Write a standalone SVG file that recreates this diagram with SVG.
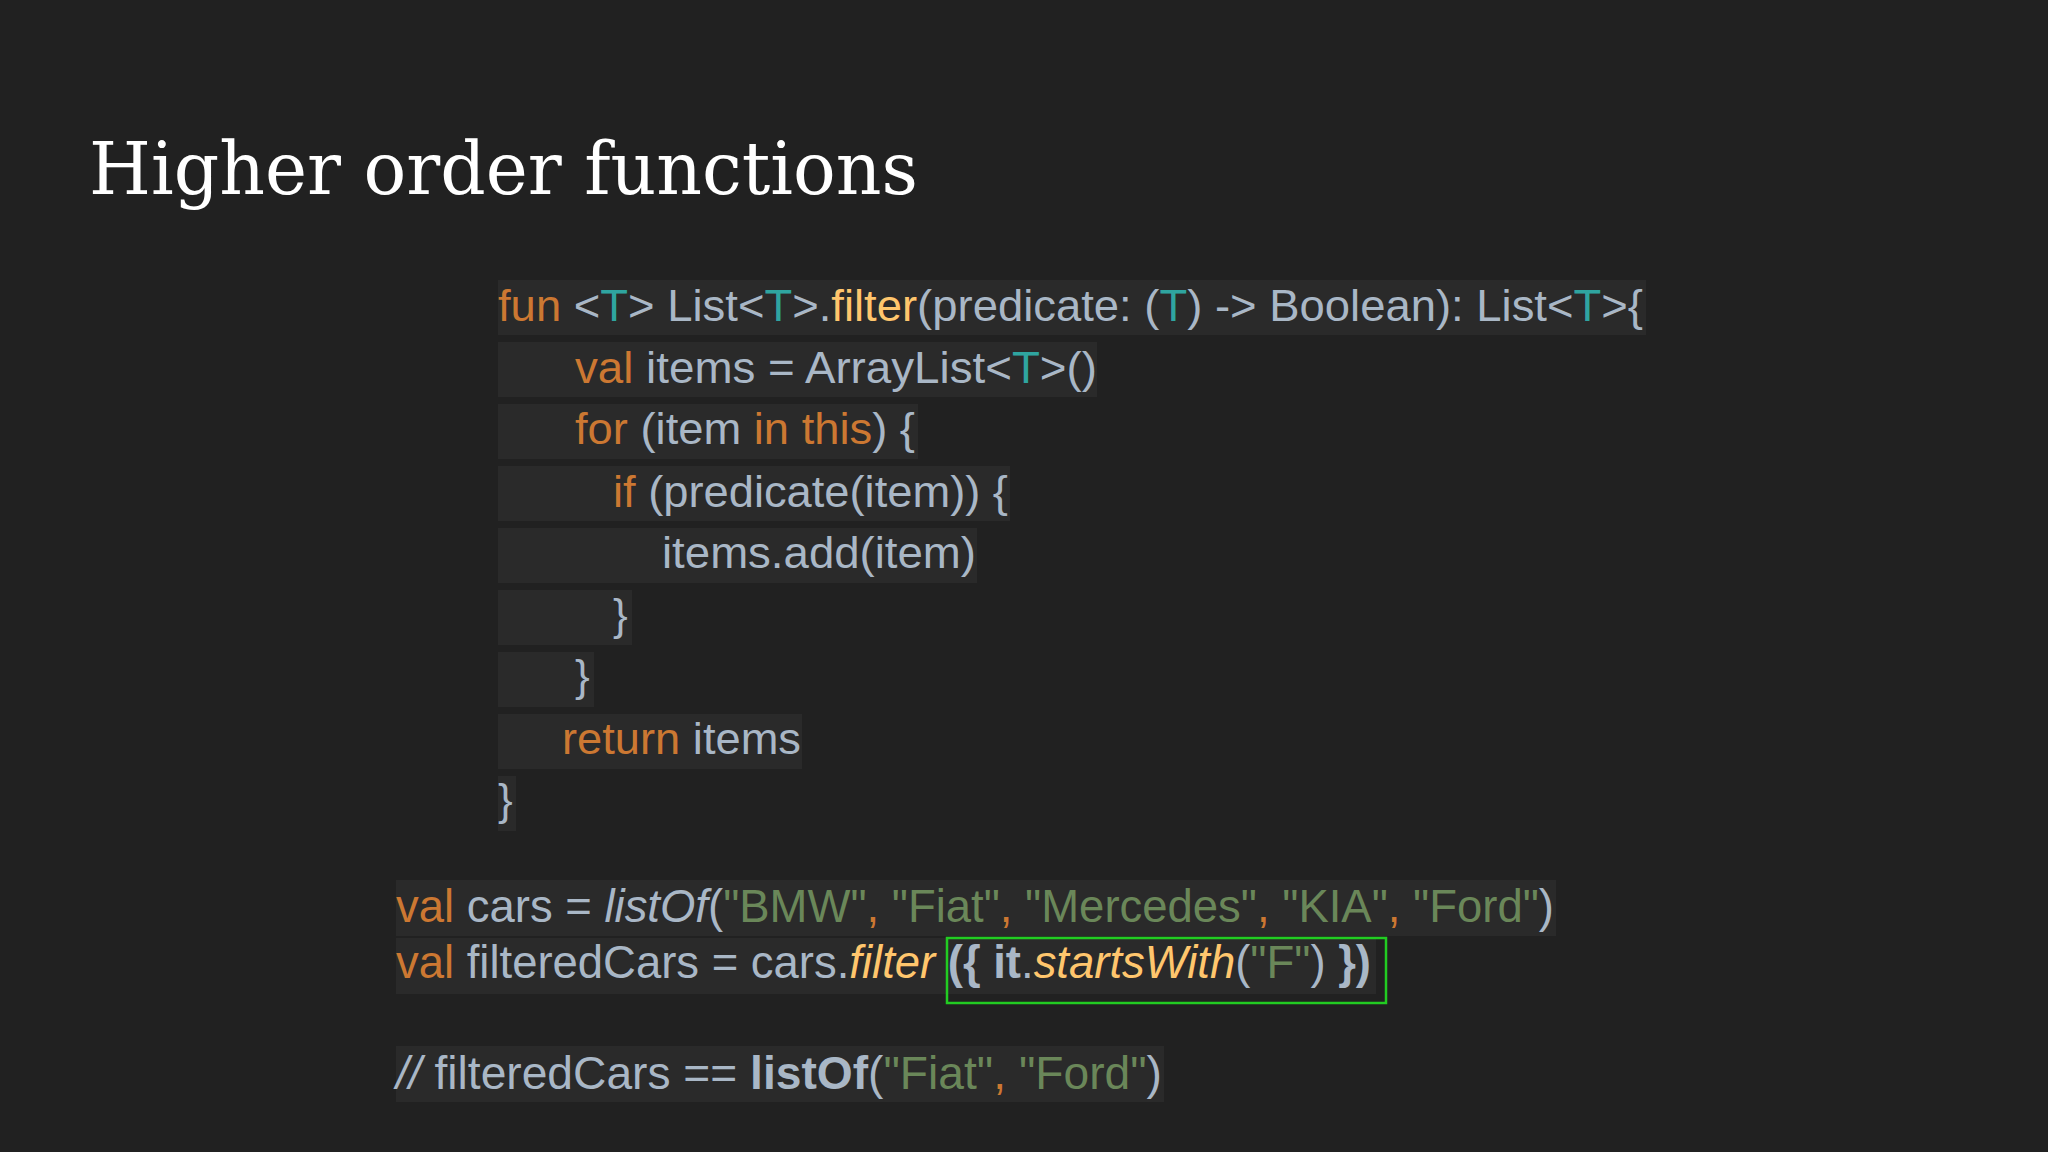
<svg xmlns="http://www.w3.org/2000/svg" width="2048" height="1152" viewBox="0 0 2048 1152">
<style>
.c{font-family:"Liberation Sans",Arial,sans-serif;font-size:44px;fill:#a9b7c6}
.b{font-size:46px}
.k{fill:#cc7832}.t{fill:#2fa5a0}.y{fill:#ffc66d}.s{fill:#6a8759}
.hl{fill:#2a2a2a}
</style>
<rect width="2048" height="1152" fill="#212121"/>
<g id="title"><text x="89" y="194" font-family="'DejaVu Serif',serif" font-size="72" fill="#ffffff" textLength="829" lengthAdjust="spacingAndGlyphs">Higher order functions</text></g>
<g id="bg">
<rect class="hl" x="498" y="280" width="1148" height="55"/>
<rect class="hl" x="498" y="342" width="599" height="55"/>
<rect class="hl" x="498" y="404" width="420" height="55"/>
<rect class="hl" x="498" y="466" width="512" height="55"/>
<rect class="hl" x="498" y="528" width="479" height="55"/>
<rect class="hl" x="498" y="590" width="134" height="55"/>
<rect class="hl" x="498" y="652" width="96" height="55"/>
<rect class="hl" x="498" y="714" width="304" height="55"/>
<rect class="hl" x="498" y="776" width="18" height="55"/>
<rect class="hl" x="396" y="880" width="1160" height="56"/>
<rect class="hl" x="396" y="938" width="980" height="56"/>
<rect class="hl" x="396" y="1046" width="768" height="56"/>
</g>
<g id="code">
<text class="c" x="498" y="321" textLength="1145" lengthAdjust="spacingAndGlyphs"><tspan class="k">fun</tspan> &lt;<tspan class="t">T</tspan>&gt; List&lt;<tspan class="t">T</tspan>&gt;.<tspan class="y">filter</tspan>(predicate: (<tspan class="t">T</tspan>) -&gt; Boolean): List&lt;<tspan class="t">T</tspan>&gt;{</text>
<text class="c" x="575" y="383" textLength="522" lengthAdjust="spacingAndGlyphs"><tspan class="k">val</tspan> items = ArrayList&lt;<tspan class="t">T</tspan>&gt;()</text>
<text class="c" x="575" y="444" textLength="340" lengthAdjust="spacingAndGlyphs"><tspan class="k">for</tspan> (item <tspan class="k">in</tspan> <tspan class="k">this</tspan>) {</text>
<text class="c" x="613" y="507" textLength="395" lengthAdjust="spacingAndGlyphs"><tspan class="k">if</tspan> (predicate(item)) {</text>
<text class="c" x="662" y="568" textLength="314" lengthAdjust="spacingAndGlyphs">items.add(item)</text>
<text class="c" x="613" y="630">}</text>
<text class="c" x="575" y="691">}</text>
<text class="c" x="562" y="754" textLength="239" lengthAdjust="spacingAndGlyphs"><tspan class="k">return</tspan> items</text>
<text class="c" x="498" y="815">}</text>
<text class="c b" x="396" y="922" textLength="1158" lengthAdjust="spacingAndGlyphs"><tspan class="k">val</tspan> cars = <tspan font-style="italic">listOf</tspan>(<tspan class="s">"BMW"</tspan><tspan class="k">,</tspan> <tspan class="s">"Fiat"</tspan><tspan class="k">,</tspan> <tspan class="s">"Mercedes"</tspan><tspan class="k">,</tspan> <tspan class="s">"KIA"</tspan><tspan class="k">,</tspan> <tspan class="s">"Ford"</tspan>)</text>
<text class="c b" x="396" y="978" textLength="975" lengthAdjust="spacingAndGlyphs"><tspan class="k">val</tspan> filteredCars = cars.<tspan class="y" font-style="italic">filter</tspan> <tspan font-weight="bold">({ it</tspan>.<tspan class="y" font-style="italic">startsWith</tspan>(<tspan class="s">"F"</tspan>) <tspan font-weight="bold">})</tspan></text>
<text class="c b" x="396" y="1089" textLength="766" lengthAdjust="spacingAndGlyphs"><tspan font-style="italic">//</tspan> filteredCars ==  <tspan font-weight="bold">listOf</tspan>(<tspan class="s">"Fiat"</tspan><tspan class="k">,</tspan> <tspan class="s">"Ford"</tspan>)</text>
</g>
<g id="highlight"><rect x="947" y="938" width="439" height="65" fill="none" stroke="#22cc22" stroke-width="2.5"/></g>
</svg>
